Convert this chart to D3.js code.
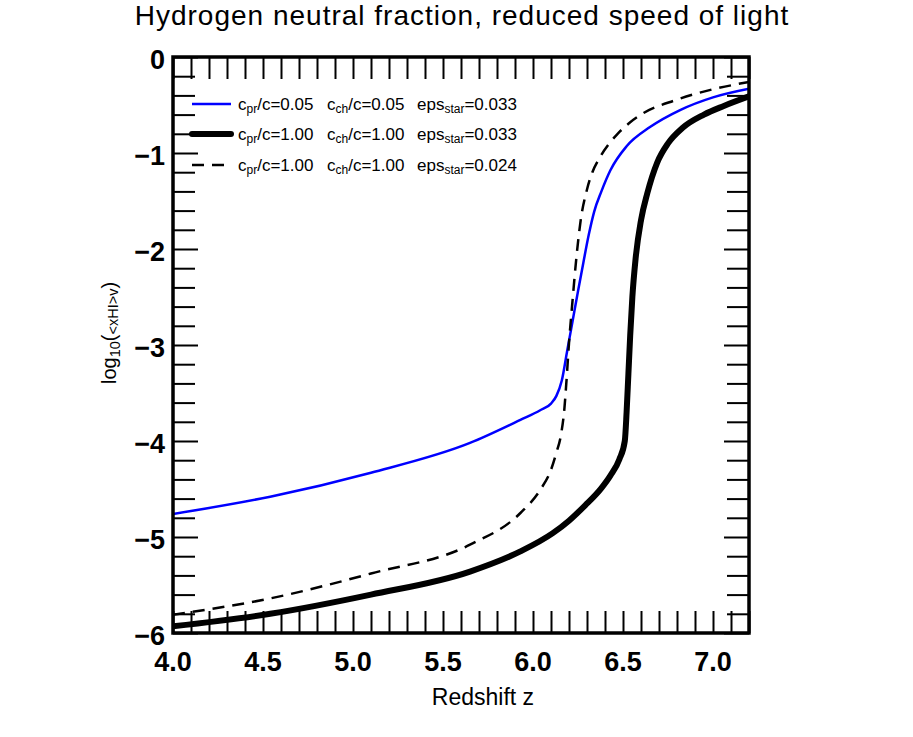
<!DOCTYPE html>
<html>
<head>
<meta charset="utf-8">
<script src="https://cdn.jsdelivr.net/npm/d3@7"></script>
<style>
  body { margin: 0; background: #fff; }
  svg { font-family: "Liberation Sans", Arial, Helvetica, sans-serif; }
</style>
</head>
<body>
<div id="chart"></div>
<script>
const svgWidth = 913
const svgHeight = 737

let margin = { top: 57, right: 164, bottom: 104, left: 173 }
let width = svgWidth - margin.left - margin.right
let height = svgHeight - margin.top - margin.bottom

// data: redshift z and log10 of neutral fraction
const zBlue = [4.00, 4.54, 5.10, 5.65, 5.93, 6.04, 6.10, 6.13, 6.16, 6.19, 6.22, 6.25, 6.28, 6.31, 6.34, 6.38, 6.43, 6.52, 6.65, 6.82, 7.00, 7.20]
const xhiBlue = [-4.76, -4.58, -4.33, -4.02, -3.78, -3.68, -3.61, -3.53, -3.37, -3.06, -2.75, -2.44, -2.14, -1.85, -1.61, -1.40, -1.18, -0.93, -0.73, -0.55, -0.42, -0.33]

const zThick = [4.00, 4.54, 5.10, 5.65, 5.93, 6.11, 6.20, 6.29, 6.38, 6.43, 6.48, 6.51, 6.52, 6.53, 6.54, 6.552, 6.57, 6.60, 6.635, 6.69, 6.75, 6.83, 6.95, 7.06, 7.20]
const xhiThick = [-5.93, -5.80, -5.60, -5.36, -5.15, -4.96, -4.83, -4.67, -4.49, -4.36, -4.19, -4.00, -3.70, -3.30, -2.90, -2.50, -2.10, -1.70, -1.42, -1.10, -0.90, -0.74, -0.60, -0.51, -0.41]

const zDash = [4.00, 4.54, 5.10, 5.65, 5.93, 6.04, 6.10, 6.13, 6.155, 6.175, 6.185, 6.20, 6.22, 6.24, 6.265, 6.30, 6.33, 6.37, 6.42, 6.47, 6.54, 6.60, 6.79, 6.97, 7.20]
const xhiDash = [-5.81, -5.64, -5.38, -5.08, -4.75, -4.51, -4.30, -4.12, -3.94, -3.65, -3.40, -2.98, -2.53, -2.11, -1.70, -1.38, -1.20, -1.05, -0.91, -0.80, -0.68, -0.60, -0.45, -0.35, -0.26]

// legend values
const cprValues = ["0.05", "1.00", "1.00"]
const cchValues = ["0.05", "1.00", "1.00"]
const epsValues = ["0.033", "0.033", "0.024"]

const xTickValues = [4.0, 4.5, 5.0, 5.5, 6.0, 6.5, 7.0]
const xTickLabels = ["4.0", "4.5", "5.0", "5.5", "6.0", "6.5", "7.0"]
const yTickValues = [0, -1, -2, -3, -4, -5, -6]
const yTickLabels = ["0", "\u22121", "\u22122", "\u22123", "\u22124", "\u22125", "\u22126"]

let series = [
  { z: zBlue, v: xhiBlue, color: "#0000ff", width: 2.5, dash: null },
  { z: zThick, v: xhiThick, color: "#000", width: 6, dash: null },
  { z: zDash, v: xhiDash, color: "#000", width: 2.5, dash: "12,8" }
]

let svg = d3
  .select("#chart")
  .append("svg")
  .attr("width", svgWidth)
  .attr("height", svgHeight)

let chartGroup = svg
  .append("g")
  .attr("transform", `translate(${margin.left}, ${margin.top})`)

let xScale = d3.scaleLinear().domain([4, 7.2]).range([0, width])
let yScale = d3.scaleLinear().domain([-6, 0]).range([height, 0])

svg.append("defs")
  .append("clipPath")
  .attr("id", "plotClip")
  .append("rect")
  .attr("width", width)
  .attr("height", height)

// curves
let line = d3.line()
  .x(d => xScale(d[0]))
  .y(d => yScale(d[1]))
  .curve(d3.curveMonotoneX)

chartGroup.append("g")
  .attr("clip-path", "url(#plotClip)")
  .selectAll("path")
  .data(series)
  .enter()
  .append("path")
  .attr("d", s => line(s.z.map((z, i) => [z, s.v[i]])))
  .attr("fill", "none")
  .attr("stroke", s => s.color)
  .attr("stroke-width", s => s.width)
  .attr("stroke-dasharray", s => s.dash)

// minor + major ticks on all four sides
let xMinor = d3.range(40, 73).map(d => d / 10)
let yMinor = d3.range(-30, 1).map(d => d / 5)

let tickLen = v => (Math.abs(v - Math.round(v)) < 1e-6 ? 25 : 22)

let bottomAxis = d3.axisBottom(xScale).tickValues(xMinor).tickSize(-22).tickFormat("")
let topAxis = d3.axisTop(xScale).tickValues(xMinor).tickSize(-22).tickFormat("")

chartGroup.append("g")
  .attr("transform", `translate(0, ${height})`)
  .call(bottomAxis)
chartGroup.append("g")
  .call(topAxis)

let leftAxis = d3.axisLeft(yScale).tickValues(yMinor).tickFormat("")
let rightAxis = d3.axisRight(yScale).tickValues(yMinor).tickFormat("")

let yLeft = chartGroup.append("g").call(leftAxis)
yLeft.selectAll(".tick line").attr("x2", d => tickLen(d))
let yRight = chartGroup.append("g").attr("transform", `translate(${width}, 0)`).call(rightAxis)
yRight.selectAll(".tick line").attr("x2", d => -tickLen(d))

chartGroup.selectAll(".domain").remove()
chartGroup.selectAll(".tick line")
  .attr("stroke", "#000")
  .attr("stroke-width", 2)

// frame
chartGroup.append("rect")
  .attr("width", width)
  .attr("height", height)
  .attr("fill", "none")
  .attr("stroke", "#000")
  .attr("stroke-width", 3.5)

// tick labels
chartGroup.selectAll("text.xLabel")
  .data(xTickValues)
  .enter()
  .append("text")
  .classed("xLabel", true)
  .attr("x", d => xScale(d))
  .attr("y", height + 38)
  .attr("text-anchor", "middle")
  .attr("font-size", "27px")
  .attr("font-weight", "bold")
  .text((d, i) => xTickLabels[i])

chartGroup.selectAll("text.yLabel")
  .data(yTickValues)
  .enter()
  .append("text")
  .classed("yLabel", true)
  .attr("x", -8)
  .attr("y", d => yScale(d) + 12)
  .attr("text-anchor", "end")
  .attr("font-size", "27px")
  .attr("font-weight", "bold")
  .text((d, i) => yTickLabels[i])

// titles
svg.append("text")
  .attr("x", 462)
  .attr("y", 25)
  .attr("text-anchor", "middle")
  .attr("font-size", "28px")
  .attr("letter-spacing", "1px")
  .text("Hydrogen neutral fraction, reduced speed of light")

svg.append("text")
  .attr("x", 483)
  .attr("y", 705)
  .attr("text-anchor", "middle")
  .attr("font-size", "23px")
  .text("Redshift z")

let yTitle = svg.append("text")
  .attr("transform", "translate(116, 333) rotate(-90)")
  .attr("text-anchor", "middle")
  .attr("font-size", "20px")
yTitle.append("tspan").text("log")
yTitle.append("tspan").attr("font-size", "14.5px").attr("dy", 4).text("10")
yTitle.append("tspan").attr("dy", -4).text("(")
yTitle.append("tspan").attr("font-size", "14.5px").attr("dy", 2).text("<xHI>v")
yTitle.append("tspan").attr("dy", -2).text(")")

// legend
let legend = chartGroup.append("g")
let legendY = [47, 77, 108]

legend.selectAll("line")
  .data(series)
  .enter()
  .append("line")
  .attr("x1", 19)
  .attr("x2", 58)
  .attr("y1", (d, i) => legendY[i])
  .attr("y2", (d, i) => legendY[i])
  .attr("stroke", s => s.color)
  .attr("stroke-width", s => s.width)
  .attr("stroke-linecap", s => (s.width > 4 ? "round" : "butt"))
  .attr("stroke-dasharray", s => s.dash)

function subText(g, x, y, pre, sub, post) {
  let t = g.append("text")
    .attr("x", x)
    .attr("y", y)
    .attr("font-size", "17px")
  t.append("tspan").text(pre)
  t.append("tspan").attr("font-size", "12px").attr("dy", 3).text(sub)
  t.append("tspan").attr("dy", -3).text(post)
}

series.forEach((s, i) => {
  let y = legendY[i] + 6
  subText(legend, 65, y, "c", "pr", "/c=" + cprValues[i])
  subText(legend, 154, y, "c", "ch", "/c=" + cchValues[i])
  subText(legend, 244, y, "eps", "star", "=" + epsValues[i])
})
</script>
</body>
</html>
